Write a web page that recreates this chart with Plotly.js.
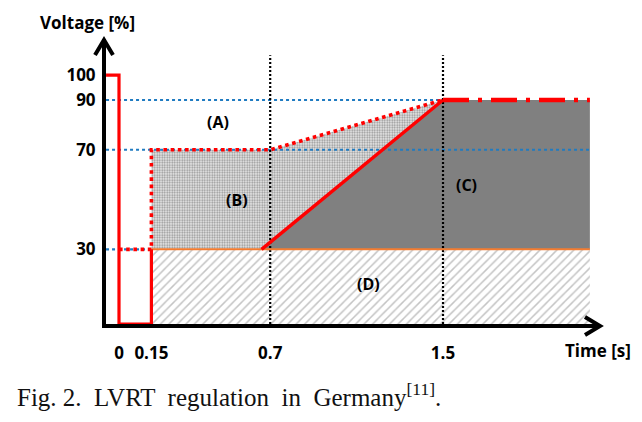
<!DOCTYPE html>
<html>
<head>
<meta charset="utf-8">
<script src="https://cdn.plot.ly/plotly-3.0.1.min.js"></script>
<style>
  html, body { margin: 0; padding: 0; background: #ffffff; }
  #chart { width: 642px; height: 422px; }
</style>
</head>
<body>
<div id="chart"></div>
<script>
// ---- data (time in s, voltage in %) ----
const timeTicks = [0, 0.15, 0.7, 1.5];
const timeTickLabels = ['0', '0.15', '0.7', '1.5'];
const voltTicks = [30, 70, 90, 100];
const voltTickLabels = ['30', '70', '90', '100'];

const tStart = -0.06;   // start of drawing (pre-fault)
const tEnd = 2.18;      // end of drawn regions

// measured grid voltage during the fault
const faultT = [tStart, 0, 0, 0.15, 0.15];
const faultV = [100, 100, 0, 0, 30];

// upper limit line (dotted)
const upperT = [0, 0.15, 0.15, 0.7, 1.5];
const upperV = [30, 30, 70, 70, 90];

// lower limit line (ramp)
const rampT = [0.66, 1.5];
const rampV = [30, 90];

// recovered voltage
const recT = [1.5, tEnd];
const recV = [90, 90];

// regions
const regionBT = [0.15, 0.15, 0.7, 1.5, 0.66];
const regionBV = [30, 70, 70, 90, 30];
const regionCT = [0.66, 1.5, tEnd, tEnd];
const regionCV = [30, 90, 90, 30];
const regionDT = [0.15, 0.15, tEnd, tEnd];
const regionDV = [0, 30, 30, 0];

// reference levels
const levelV = [30, 70, 90];
const levelEndT = [0.15, tEnd, 1.5];

// marked instants (vertical dotted)
const markT = [0.7, 1.5];
const markTop = 108;

// region labels
const labelText = ['(A)', '(B)', '(C)', '(D)'];
const labelT = [0.458, 0.546, 1.61, 1.153];
const labelV = [81, 50, 55.8, 16];

// ---- traces ----
const RED = '#ff0000';
const BLUE = '#1f7bc1';
const traces = [];

traces.push({x: regionDT, y: regionDV, mode: 'lines', fill: 'toself',
  line: {width: 0, color: 'rgba(0,0,0,0)'}, fillcolor: 'rgba(0,0,0,0)',
  fillpattern: {shape: '/', fgcolor: '#c4c4c4', bgcolor: '#ffffff', size: 6, solidity: 0.25}});
traces.push({x: regionBT, y: regionBV, mode: 'lines', fill: 'toself',
  line: {width: 0, color: 'rgba(0,0,0,0)'}, fillcolor: 'rgba(0,0,0,0)',
  fillpattern: {shape: '.', fgcolor: '#949494', bgcolor: '#ececec', size: 2.5, solidity: 0.45}});
traces.push({x: regionCT, y: regionCV, mode: 'lines', fill: 'toself',
  line: {width: 0, color: 'rgba(0,0,0,0)'}, fillcolor: '#808080'});

// blue dotted reference levels
levelV.forEach((v, i) => {
  traces.push({x: [tStart, levelEndT[i]], y: [v, v], mode: 'lines',
    line: {color: BLUE, width: 2.2, dash: 'dot'}});
});
// black dotted verticals
markT.forEach(t => {
  traces.push({x: [t, t], y: [0, markTop], mode: 'lines',
    line: {color: '#000000', width: 2.2, dash: '2px,2px'}});
});
// orange level at 30 %
traces.push({x: [0.15, tEnd], y: [30, 30], mode: 'lines',
  line: {color: '#f47c30', width: 2}});
// red lines
traces.push({x: upperT, y: upperV, mode: 'lines', line: {color: RED, width: 3.6, dash: 'dot'}});
traces.push({x: faultT, y: faultV, mode: 'lines', line: {color: RED, width: 3.2}});
traces.push({x: rampT, y: rampV, mode: 'lines', line: {color: RED, width: 3.4}});
traces.push({x: recT, y: recV, mode: 'lines', line: {color: RED, width: 4.5, dash: '26px,9px,4px,9px'}});

// ---- layout ----
const L = 106, R = 42, T = 39, B = 98;
const plotW = 642 - L - R, plotH = 422 - T - B;
const px2paperX = p => (p - L) / plotW;
const px2paperY = p => (422 - B - p) / plotH;

const LABEL_FONT = {family: 'Open Sans', size: 17, color: '#000', weight: 'bold'};

const annotations = labelText.map((s, i) => ({
  x: labelT[i], y: labelV[i], xref: 'x', yref: 'y', text: s, showarrow: false,
  font: {family: 'Open Sans', size: 16, color: '#000', weight: 'bold'}
}));
annotations.push({x: px2paperX(87), y: px2paperY(22), xref: 'paper', yref: 'paper',
  text: 'Voltage [%]', showarrow: false, xanchor: 'center', yanchor: 'middle',
  font: LABEL_FONT});
annotations.push({x: px2paperX(598), y: px2paperY(350), xref: 'paper', yref: 'paper',
  text: 'Time [s]', showarrow: false, xanchor: 'center', yanchor: 'middle',
  font: LABEL_FONT});
annotations.push({x: px2paperX(15), y: px2paperY(395), xref: 'paper', yref: 'paper',
  text: 'Fig. 2.  LVRT  regulation  in  Germany<sup>[11]</sup>.', showarrow: false,
  xanchor: 'left', yanchor: 'middle',
  font: {family: 'Liberation Serif', size: 25, color: '#111'}});

const shapes = [
  // arrowhead on voltage axis
  {type: 'path', xref: 'paper', yref: 'paper',
   path: `M ${px2paperX(95)},${px2paperY(55)} L ${px2paperX(104)},${px2paperY(40)} L ${px2paperX(113)},${px2paperY(55)}`,
   line: {color: '#000', width: 4}},
  // arrowhead on time axis
  {type: 'path', xref: 'paper', yref: 'paper',
   path: `M ${px2paperX(585)},${px2paperY(317)} L ${px2paperX(600)},${px2paperY(326)} L ${px2paperX(585)},${px2paperY(335)}`,
   line: {color: '#000', width: 4}}
];

const layout = {
  width: 642, height: 422,
  margin: {l: L, r: R, t: T, b: B, pad: 0},
  paper_bgcolor: '#ffffff', plot_bgcolor: '#ffffff',
  showlegend: false,
  xaxis: {range: [(L - 119) / 216, (642 - R - 119) / 216], showgrid: false, zeroline: false,
    showline: true, linecolor: '#000', linewidth: 4,
    tickmode: 'array', tickvals: timeTicks, ticktext: timeTickLabels, ticks: '',
    ticklabelstandoff: 11,
    tickfont: LABEL_FONT},
  yaxis: {range: [0, plotH / 2.489], showgrid: false, zeroline: false,
    showline: true, linecolor: '#000', linewidth: 4,
    tickmode: 'array', tickvals: voltTicks, ticktext: voltTickLabels, ticks: '',
    ticklabelstandoff: 3,
    tickfont: LABEL_FONT},
  annotations: annotations,
  shapes: shapes
};

Plotly.newPlot('chart', traces, layout, {staticPlot: true, displayModeBar: false});
</script>
</body>
</html>
